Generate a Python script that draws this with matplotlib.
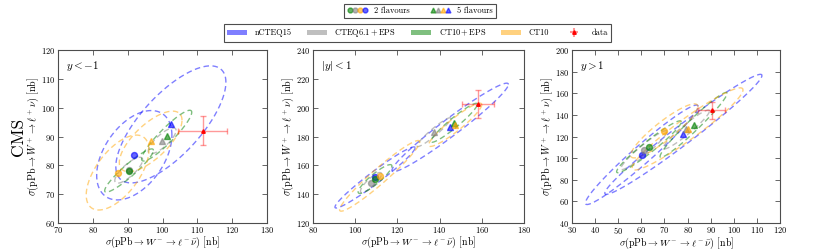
import numpy as np
import matplotlib
matplotlib.use("Agg")
import matplotlib.pyplot as plt
from matplotlib.lines import Line2D
from matplotlib.patches import Patch
from matplotlib.legend_handler import HandlerTuple

plt.rcParams['font.family'] = 'serif'
plt.rcParams['font.serif'] = ['cmr10', 'DejaVu Serif']
plt.rcParams['mathtext.fontset'] = 'cm'
plt.rcParams['axes.unicode_minus'] = False
plt.rcParams['axes.formatter.use_mathtext'] = True

# ---------------- data ----------------
sets = ['nCTEQ15', 'CTEQ6.1+EPS', 'CT10+EPS', 'CT10']
set_labels = ['nCTEQ15', r'$\mathrm{CTEQ6.1+EPS}$', r'$\mathrm{CT10+EPS}$', 'CT10']
set_colors = ['blue', 'gray', 'green', 'orange']

panel_titles = [r'$y<-1$', r'$|y|<1$', r'$y>1$']
xlims = [(70, 130), (80, 180), (30, 120)]
ylims = [(60, 120), (120, 240), (40, 200)]
xticks = [[70, 80, 90, 100, 110, 120, 130],
          [80, 100, 120, 140, 160, 180],
          [30, 40, 50, 60, 70, 80, 90, 100, 110, 120]]
yticks = [[60, 70, 80, 90, 100, 110, 120],
          [120, 140, 160, 180, 200, 220, 240],
          [40, 60, 80, 100, 120, 140, 160, 180, 200]]

# 2 flavours (circles): order nCTEQ15, CTEQ6.1+EPS, CT10+EPS, CT10
x2 = [[91.9, 90.3, 90.4, 87.1],
      [109.4, 107.5, 109.4, 111.6],
      [60.2, 61.1, 63.3, 69.9]]
y2 = [[83.5, 78.3, 78.2, 77.5],
      [151.6, 148.0, 150.5, 152.7],
      [103.1, 107.4, 110.5, 125.2]]
# 5 flavours (triangles)
x5 = [[102.4, 99.9, 101.2, 96.6],
      [145.0, 137.3, 146.9, 147.4],
      [78.2, 79.5, 82.6, 80.0]]
y5 = [[94.2, 88.5, 90.3, 88.3],
      [186.3, 183.0, 189.5, 188.1],
      [122.0, 126.5, 130.7, 127.0]]

# uncertainty ellipses: sigma_x, sigma_y, correlation
sx2 = [[10.8, 4.0, 7.0, 9.0],
       [19.0, 5.0, 8.0, 19.0],
       [24.4, 10.0, 14.0, 14.5]]
sy2 = [[15.5, 4.5, 7.5, 13.0],
       [21.2, 7.0, 10.0, 24.5],
       [46.0, 18.0, 24.0, 25.0]]
rho2 = [[0.45, 0.8, 0.93, 0.6],
        [0.97, 0.85, 0.9, 0.96],
        [0.97, 0.95, 0.96, 0.9]]
sx5 = [[15.8, 4.0, 7.2, 9.0],
       [27.6, 8.0, 11.0, 12.6],
       [34.0, 10.0, 14.5, 24.0]]
sy5 = [[20.3, 4.5, 8.8, 10.5],
       [30.7, 10.0, 13.5, 15.0],
       [55.5, 18.0, 30.0, 38.0]]
rho5 = [[0.72, 0.8, 0.92, 0.7],
        [0.97, 0.95, 0.95, 0.93],
        [0.98, 0.95, 0.97, 0.95]]

# CMS data
data_x = [111.5, 158.3, 90.4]
data_xerr = [7.1, 7.7, 5.8]
data_y = [92.0, 202.7, 144.2]
data_yerr = [5.1, 9.6, 8.0]

xlabel = r'$\sigma(\mathrm{pPb}\rightarrow W^-\rightarrow \ell^-\bar{\nu})$ [nb]'
ylabel = r'$\sigma(\mathrm{pPb}\rightarrow W^+\rightarrow \ell^+\nu)$ [nb]'

# ---------------- plot ----------------
fig = plt.figure(figsize=(8.3, 2.49), dpi=100)
lefts = [58 / 830, 313 / 830, 572 / 830]
widths = [209 / 830, 211 / 830, 208 / 830]
bottom = 1 - 223 / 249
height = 173 / 249

t = np.linspace(0, 2 * np.pi, 300)


def ellipse(ax, cx, cy, sx, sy, rho, color):
    ex = cx + sx * np.cos(t)
    ey = cy + sy * (rho * np.cos(t) + np.sqrt(1 - rho ** 2) * np.sin(t))
    ax.plot(ex, ey, color=color, alpha=0.5, lw=1.0, dashes=(4, 2.5), zorder=2)


axes = []
for p in range(3):
    ax = fig.add_axes([lefts[p], bottom, widths[p], height])
    axes.append(ax)
    for i in range(4):
        c = set_colors[i]
        ellipse(ax, x2[p][i], y2[p][i], sx2[p][i], sy2[p][i], rho2[p][i], c)
        ellipse(ax, x5[p][i], y5[p][i], sx5[p][i], sy5[p][i], rho5[p][i], c)
    for i in range(4):
        c = set_colors[i]
        ax.plot(x2[p][i], y2[p][i], 'o', ms=4.3, color=c, alpha=0.6, mec=c, zorder=3)
        ax.plot(x5[p][i], y5[p][i], '^', ms=4.3, color=c, alpha=0.6, mec=c, zorder=3)
    ax.errorbar(data_x[p], data_y[p], xerr=data_xerr[p], yerr=data_yerr[p],
                fmt='^', ms=2.5, color='red', ecolor=(1, 0, 0, 0.4), elinewidth=1.0,
                capsize=2.5, capthick=1.0, zorder=4)
    ax.set_xlim(*xlims[p])
    ax.set_ylim(*ylims[p])
    ax.set_xticks(xticks[p])
    ax.set_yticks(yticks[p])
    ax.tick_params(direction='in', top=True, right=True, labelsize=6,
                   length=3.5, width=0.6, pad=2, color='0.3')
    ax.tick_params(axis='x', pad=1.2)
    for s in ax.spines.values():
        s.set_color('0.3')
        s.set_linewidth(0.8)
    ax.set_xlabel(xlabel, fontsize=7.1, labelpad=-0.3)
    ax.set_ylabel(ylabel, fontsize=7.3, labelpad=0)
    ax.text(0.04, 0.95, panel_titles[p], transform=ax.transAxes,
            ha='left', va='top', fontsize=8)

fig.text(0.022, 0.45, 'CMS', rotation=90, fontsize=12.5, ha='center', va='center')

# legend 1: flavours
circ = tuple(Line2D([], [], marker='o', ls='', ms=3.5, color=set_colors[k], alpha=0.6)
             for k in [2, 1, 3, 0])
tri = tuple(Line2D([], [], marker='^', ls='', ms=3.5, color=set_colors[k], alpha=0.6)
            for k in [2, 1, 3, 0])
leg1 = fig.legend([circ, tri], ['2 flavours', '5 flavours'],
                  handler_map={tuple: HandlerTuple(ndivide=None, pad=0)},
                  loc='center', bbox_to_anchor=(0.506, 0.955), ncol=2,
                  fontsize=6, handlelength=2.4, handletextpad=0.8,
                  columnspacing=2.5, borderpad=0.35, fancybox=False,
                  edgecolor='0.3', framealpha=1)
leg1.get_frame().set_linewidth(0.8)

# legend 2: sets + data
h2 = [Patch(facecolor=set_colors[i], alpha=0.5, edgecolor='none') for i in range(4)]
ebh = axes[0].errorbar([], [], xerr=[], yerr=[], fmt='^', ms=2.5, color='red',
                       ecolor=(1, 0, 0, 0.4), capsize=2)
h2.append(ebh)
leg2 = fig.legend(h2, set_labels + ['data'], loc='center',
                  bbox_to_anchor=(0.503, 0.866), ncol=5, fontsize=6,
                  handlelength=2.4, handletextpad=0.9, columnspacing=1.8,
                  borderpad=0.35, fancybox=False, edgecolor='0.3', framealpha=1)
leg2.get_frame().set_linewidth(0.8)

fig.savefig('out.png', dpi=100)
